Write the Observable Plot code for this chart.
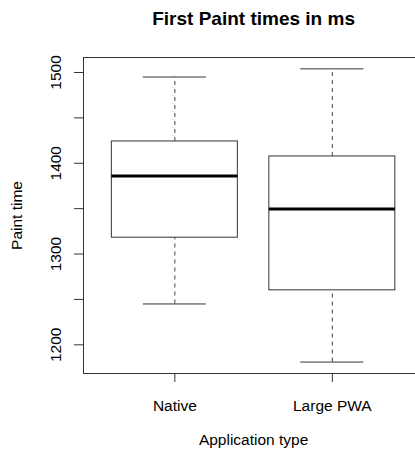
<!DOCTYPE html>
<html><head><meta charset="utf-8">
<script src="https://cdn.jsdelivr.net/npm/d3@7"></script>
<script src="https://cdn.jsdelivr.net/npm/@observablehq/plot@0.6"></script>
<style>html,body{margin:0;padding:0;background:#fff;overflow:hidden}</style>
</head><body><div id="chart"></div>
<script>
const title = "First Paint times in ms";
const xLabel = "Application type";
const yLabel = "Paint time";
const categories = ["Native", "Large PWA"];
const lowerWhisker = [1245, 1181];
const q1 = [1318, 1260];
const median = [1386, 1349.5];
const q3 = [1424, 1407.5];
const upperWhisker = [1495, 1504];
const yTicks = [1200, 1250, 1300, 1350, 1400, 1450, 1500];
const yTickLabels = ["1200", "1300", "1400", "1500"];

const positions = categories.map((c, i) => i + 1);
const rows = categories.map((name, i) => ({
  pos: positions[i], name,
  lo: lowerWhisker[i], q1: q1[i], med: median[i], q3: q3[i], hi: upperWhisker[i]
}));
const boxHalf = 0.4, capHalf = 0.2;
const xDomain = [0.42, 2.528];
const yDomain = [1168.4, 1516.5];
const xCenter = (positions[0] + positions[positions.length - 1]) / 2;
const ink = "#333";

const chart = Plot.plot({
  width: 415, height: 455,
  marginLeft: 83, marginRight: 0, marginTop: 57, marginBottom: 82,
  style: {fontFamily: "'Liberation Sans', Arial, sans-serif", fontSize: "15.5px", background: "#fff", color: "#000"},
  x: {type: "linear", domain: xDomain},
  y: {domain: yDomain},
  marks: [
    Plot.ruleY([yDomain[1]], {stroke: ink}),
    Plot.ruleY([yDomain[0]], {stroke: ink}),
    Plot.ruleX([xDomain[0]], {stroke: ink}),
    Plot.ruleX(rows, {x: "pos", y1: "q3", y2: "hi", stroke: "#444", strokeDasharray: "4,4"}),
    Plot.ruleX(rows, {x: "pos", y1: "lo", y2: "q1", stroke: "#444", strokeDasharray: "4,4"}),
    Plot.ruleY(rows, {y: "hi", x1: d => d.pos - capHalf, x2: d => d.pos + capHalf, stroke: ink}),
    Plot.ruleY(rows, {y: "lo", x1: d => d.pos - capHalf, x2: d => d.pos + capHalf, stroke: ink}),
    Plot.rect(rows, {x1: d => d.pos - boxHalf, x2: d => d.pos + boxHalf, y1: "q1", y2: "q3", fill: "#fff", stroke: ink, insetLeft: 0, insetRight: 0}),
    Plot.ruleY(rows, {y: "med", x1: d => d.pos - boxHalf, x2: d => d.pos + boxHalf, stroke: "#000", strokeWidth: 3}),
    Plot.axisY({ticks: yTicks, tickSize: 9, fill: "none", label: null, stroke: ink}),
    Plot.text(yTickLabels, {y: d => +d, text: d => d, frameAnchor: "left", rotate: -90, dx: -27, textAnchor: "middle", lineAnchor: "middle", fill: "#000"}),
    Plot.axisX({ticks: positions, tickSize: 9, tickPadding: 17, tickFormat: d => categories[d - 1], label: null, stroke: ink, fill: "#000"}),
    Plot.text([yLabel], {frameAnchor: "left", rotate: -90, dx: -66, textAnchor: "middle", lineAnchor: "middle", fill: "#000"}),
    Plot.text([xLabel], {x: xCenter, frameAnchor: "bottom", dy: 67, textAnchor: "middle", lineAnchor: "middle", fill: "#000"}),
    Plot.text([title], {x: xCenter, frameAnchor: "top", dy: -38.5, textAnchor: "middle", lineAnchor: "middle", fontWeight: "bold", fontSize: 19, fill: "#000"})
  ]
});
document.getElementById("chart").appendChild(chart);
</script>
</body></html>
